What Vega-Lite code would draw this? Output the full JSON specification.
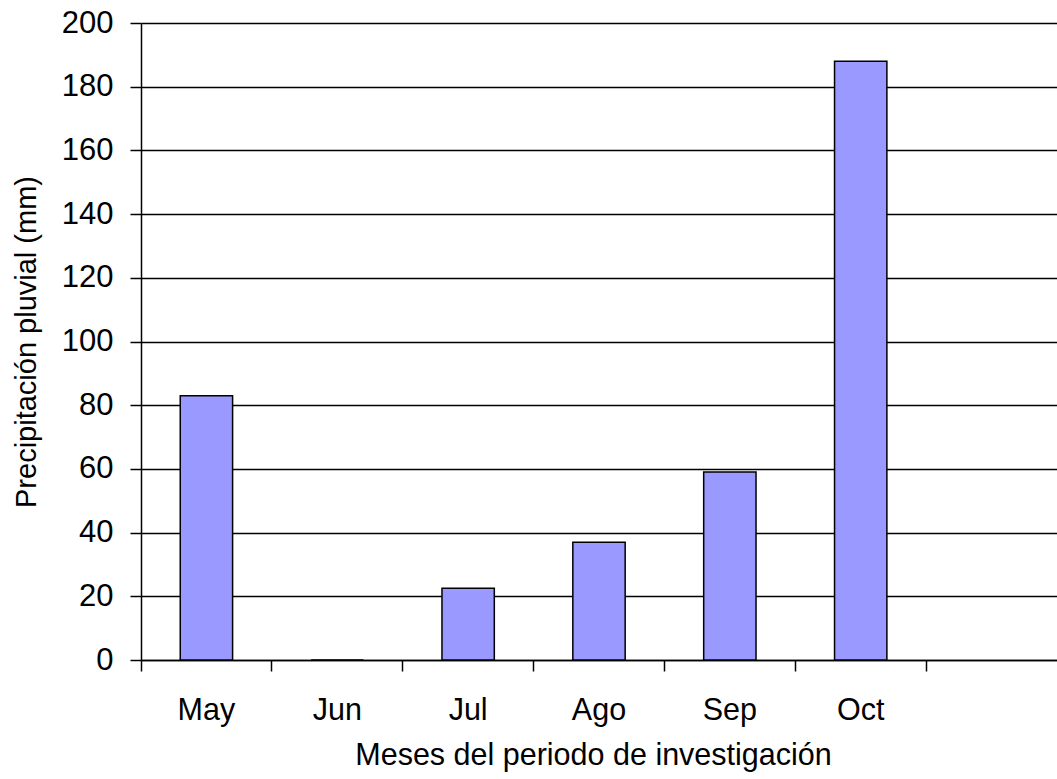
{
  "$schema": "https://vega.github.io/schema/vega-lite/v6.json",
  "width": 916,
  "height": 637,
  "autosize": "none",
  "padding": {"left": 141, "top": 23, "right": 0, "bottom": 119},
  "background": "white",
  "config": {
    "view": {"stroke": null},
    "font": "Liberation Sans"
  },
  "data": {
    "values": [
      {"mes": "May", "mm": 83},
      {"mes": "Jun", "mm": 0},
      {"mes": "Jul", "mm": 22.5},
      {"mes": "Ago", "mm": 37},
      {"mes": "Sep", "mm": 59},
      {"mes": "Oct", "mm": 188}
    ]
  },
  "mark": {
    "type": "bar",
    "fill": "#9999FF",
    "stroke": "black",
    "strokeWidth": 1.5,
    "width": {"band": 0.4}
  },
  "encoding": {
    "x": {
      "field": "mes",
      "type": "nominal",
      "sort": null,
      "scale": {
        "domain": ["May", "Jun", "Jul", "Ago", "Sep", "Oct", " "],
        "paddingInner": 0,
        "paddingOuter": 0
      },
      "axis": {
        "title": "Meses del periodo de investigación",
        "labelAngle": 0,
        "bandPosition": 0,
        "tickSize": 11,
        "tickColor": "black",
        "tickWidth": 1.5,
        "domainColor": "black",
        "domainWidth": 1.5,
        "labelFontSize": 30.5,
        "labelColor": "black",
        "labelPadding": 24,
        "titleFontSize": 30.5,
        "titleFontWeight": "normal",
        "titleColor": "black",
        "titlePadding": 15,
        "titleX": 452
      }
    },
    "y": {
      "field": "mm",
      "type": "quantitative",
      "scale": {"domain": [0, 200], "nice": false},
      "axis": {
        "title": "Precipitación pluvial (mm)",
        "values": [0, 20, 40, 60, 80, 100, 120, 140, 160, 180, 200],
        "grid": true,
        "gridColor": "black",
        "gridWidth": 1.5,
        "gridOpacity": 1,
        "tickSize": 11,
        "tickColor": "black",
        "tickWidth": 1.5,
        "domainColor": "black",
        "domainWidth": 1.5,
        "labelFontSize": 31,
        "labelColor": "black",
        "labelPadding": 17,
        "titleFontSize": 29,
        "titleFontWeight": "normal",
        "titleColor": "black",
        "titleX": -100
      }
    }
  }
}
